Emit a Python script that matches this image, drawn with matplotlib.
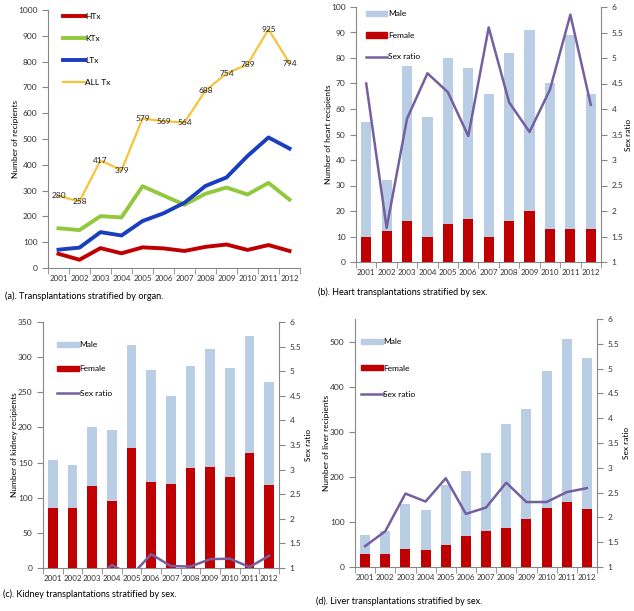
import matplotlib
matplotlib.use('Agg')
import matplotlib.pyplot as plt
from matplotlib import font_manager
import numpy as np
from matplotlib.patches import Patch
from matplotlib.lines import Line2D

installed = {f.name for f in font_manager.fontManager.ttflist}
if 'Liberation Sans Narrow' in installed:
    plt.rcParams['font.family'] = ['Liberation Sans Narrow', 'DejaVu Sans']
    FS = 6.8
else:
    plt.rcParams['font.family'] = ['Lato', 'DejaVu Sans']
    FS = 6.0
plt.rcParams['font.size'] = FS

years = ['2001', '2002', '2003', '2004', '2005', '2006', '2007', '2008', '2009', '2010', '2011', '2012']

# (a) by organ
htx = [55, 32, 77, 57, 80, 76, 66, 82, 91, 70, 89, 66]
ktx = [154, 147, 201, 196, 317, 281, 245, 288, 312, 285, 330, 265]
ltx = [71, 79, 139, 126, 182, 212, 253, 318, 351, 434, 506, 463]
all_tx = [280, 258, 417, 379, 579, 569, 564, 688, 754, 789, 925, 794]

# (b) heart
heart_total = [55, 32, 77, 57, 80, 76, 66, 82, 91, 70, 89, 66]
heart_female = [10, 12, 16, 10, 15, 17, 10, 16, 20, 13, 13, 13]
heart_ratio = [4.5, 1.67, 3.81, 4.7, 4.33, 3.47, 5.6, 4.13, 3.55, 4.38, 5.85, 4.08]

# (c) kidney
kid_total = [154, 147, 201, 196, 317, 281, 245, 288, 312, 285, 330, 265]
kid_female = [86, 86, 116, 95, 171, 123, 120, 142, 143, 130, 163, 118]
kid_ratio = [0.79, 0.71, 0.73, 1.06, 0.85, 1.28, 1.04, 1.03, 1.18, 1.19, 1.02, 1.25]

# (d) liver
liv_total = [70, 79, 139, 126, 182, 212, 253, 318, 351, 434, 506, 463]
liv_female = [28, 29, 40, 38, 48, 69, 79, 86, 106, 131, 145, 129]
liv_ratio = [1.42, 1.72, 2.48, 2.32, 2.79, 2.07, 2.2, 2.7, 2.31, 2.31, 2.51, 2.59]

c_red = '#C00000'
c_green = '#92C83E'
c_blue = '#1A3EC0'
c_yellow = '#F7C33C'
c_male = '#B9CDE5'
c_ratio = '#7460A0'
c_axis = '#888888'
c_text = '#333333'

W, H = 634, 611
fig = plt.figure(figsize=(W / 100, H / 100), dpi=100)


def box(l, t, r, b):
    return [l / W, (H - b) / H, (r - l) / W, (b - t) / H]


x = np.arange(len(years))


def style_axes(ax):
    for s in ['top', 'right']:
        ax.spines[s].set_visible(False)
    ax.spines['left'].set_color(c_axis)
    ax.spines['bottom'].set_color(c_axis)
    ax.set_xlim(-0.5, 11.5)
    ax.set_xticks(x)
    ax.set_xticklabels(years)
    ax.set_xticks(np.arange(-0.5, 12, 1), minor=True)
    ax.tick_params(axis='x', which='major', length=0, pad=5, labelsize=FS - 0.2, colors=c_text)
    ax.tick_params(axis='x', which='minor', length=4, color=c_axis)
    ax.tick_params(axis='y', length=4, color=c_axis, labelsize=FS, colors=c_text)


# ---- (a)
ax = fig.add_axes(box(48, 10, 300, 268))
style_axes(ax)
ax.plot(x, htx, color=c_red, lw=2.8, label='HTx')
ax.plot(x, ktx, color=c_green, lw=2.8, label='KTx')
ax.plot(x, ltx, color=c_blue, lw=2.8, label='LTx')
ax.plot(x, all_tx, color=c_yellow, lw=1.6, label='ALL Tx')
for i, v in enumerate(all_tx):
    ax.text(i, v, str(v), ha='center', va='center', fontsize=FS, color='#222222')
ax.set_ylim(0, 1000)
ax.set_yticks(range(0, 1001, 100))
ax.set_ylabel('Number of recipients', fontsize=FS)
ax.yaxis.set_label_coords(-0.115, 0.5)
ax.legend(loc='upper left', bbox_to_anchor=(0.036, 1.01), frameon=False, fontsize=FS,
          borderpad=0.2, labelspacing=1.8, handlelength=2.6, handletextpad=0.1)
fig.text(5 / W, 1 - 296 / H, '(a). Transplantations stratified by organ.', fontsize=FS + 0.6, va='center')


def sex_panel(rect, total, female, ratio, ymax, ystep, ylabel, lx, rx, leg_x, leg_y, leg_sp, ytop=None):
    ax = fig.add_axes(rect)
    style_axes(ax)
    ax.bar(x, total, width=0.5, color=c_male, label='Male', zorder=2)
    ax.bar(x, female, width=0.5, color=c_red, label='Female', zorder=3)
    ax.set_ylim(0, ytop if ytop else ymax)
    ax.set_yticks(np.arange(0, ymax + 1, ystep))
    ax.set_ylabel(ylabel, fontsize=FS)
    ax.yaxis.set_label_coords(lx, 0.5)
    ax2 = ax.twinx()
    ax2.plot(x, ratio, color=c_ratio, lw=1.8, zorder=4)
    ax2.set_ylim(1, 6)
    ax2.set_yticks(np.arange(1, 6.01, 0.5))
    ax2.set_yticklabels(['1', '1.5', '2', '2.5', '3', '3.5', '4', '4.5', '5', '5.5', '6'])
    for s in ['top', 'left', 'bottom']:
        ax2.spines[s].set_visible(False)
    ax2.spines['right'].set_color(c_axis)
    ax2.tick_params(axis='y', length=4, color=c_axis, labelsize=FS, colors=c_text)
    ax2.set_ylabel('Sex ratio', fontsize=FS)
    ax2.yaxis.set_label_coords(rx, 0.5)
    handles = [Patch(color=c_male), Patch(color=c_red), Line2D([], [], color=c_ratio, lw=1.8)]
    ax.legend(handles, ['Male', 'Female', 'Sex ratio'], loc='upper left',
              bbox_to_anchor=(leg_x, leg_y), frameon=False, fontsize=FS, borderpad=0.2,
              labelspacing=leg_sp, handlelength=2.6, handleheight=0.6, handletextpad=0.1)
    return ax


sex_panel(box(356, 7, 601, 262), heart_total, heart_female, heart_ratio, 100, 10,
          'Number of heart recipients', -0.097, 1.1, 0.015, 1.01, 1.75)
fig.text(318 / W, 1 - 292 / H, '(b). Heart transplantations stratified by sex.', fontsize=FS + 0.5, va='center')

sex_panel(box(43, 322, 279, 568), kid_total, kid_female, kid_ratio, 350, 50,
          'Number of kidney recipients', -0.108, 1.11, 0.035, 0.945, 2.05)
fig.text(3 / W, 1 - 594 / H, '(c). Kidney transplantations stratified by sex.', fontsize=FS + 0.5, va='center')

sex_panel(box(355, 319, 597, 567), liv_total, liv_female, liv_ratio, 500, 100,
          'Number of liver recipients', -0.102, 1.108, 0.0, 0.945, 2.3, ytop=550)
fig.text(316 / W, 1 - 601 / H, '(d). Liver transplantations stratified by sex.', fontsize=FS + 0.5, va='center')

fig.savefig('out.png', dpi=100)
